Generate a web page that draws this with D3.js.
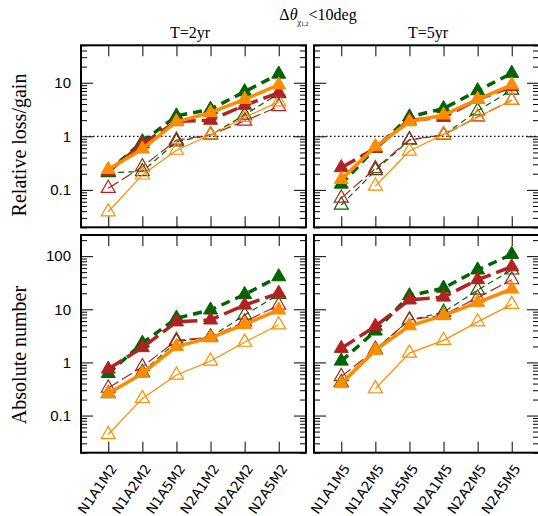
<!DOCTYPE html>
<html>
<head>
<meta charset="utf-8">
<script src="https://cdn.jsdelivr.net/npm/d3@7"></script>
<style>
  body { margin: 0; background: #fff; }
  svg { display: block; }
</style>
</head>
<body>
<div id="chart"></div>
<script>
// categories
const cats2yr = ["N1A1M2", "N1A2M2", "N1A5M2", "N2A1M2", "N2A2M2", "N2A5M2"];
const cats5yr = ["N1A1M5", "N1A2M5", "N1A5M5", "N2A1M5", "N2A2M5", "N2A5M5"];

// relative loss/gain, T=2yr
const rel2_greenFilled  = [0.22, 0.79, 2.4, 3.2, 6.8, 14.5];
const rel2_redFilled    = [0.22, 0.72, 1.9, 2.0, 3.8, 6.5];
const rel2_orangeFilled = [0.24, 0.58, 1.87, 2.76, 4.9, 9.1];
const rel2_greenOpen    = [0.21, 0.22, 0.79, 1.06, 2.5, 6.3];
const rel2_redOpen      = [0.107, 0.27, 0.85, 1.06, 1.93, 3.6];
const rel2_orangeOpen   = [0.039, 0.19, 0.55, 1.06, 2.26, 4.4];

// relative loss/gain, T=5yr
const rel5_greenFilled  = [0.128, 0.60, 2.3, 3.3, 7.1, 15];
const rel5_redFilled    = [0.26, 0.60, 2.0, 2.26, 4.9, 8.4];
const rel5_orangeFilled = [0.157, 0.64, 1.87, 2.5, 4.9, 9.1];
const rel5_greenOpen    = [0.052, 0.23, 0.85, 1.06, 3.0, 7.3];
const rel5_redOpen      = [0.070, 0.25, 0.87, 1.06, 2.3, 4.7];
const rel5_orangeOpen   = [null, 0.118, 0.53, 1.08, 2.26, 4.7];

// absolute number, T=2yr
const abs2_greenFilled  = [0.62, 2.3, 6.8, 9.7, 19, 41];
const abs2_redFilled    = [0.75, 1.9, 5.8, 6.3, 12, 20];
const abs2_orangeFilled = [0.26, 0.62, 2.0, 2.9, 5.2, 9.7];
const abs2_greenOpen    = [0.26, 0.65, 2.45, 3.0, 7.8, 19];
const abs2_redOpen      = [0.33, 0.83, 2.6, 3.0, 5.8, 12];
const abs2_orangeOpen   = [0.044, 0.21, 0.58, 1.06, 2.4, 5.1];

// absolute number, T=5yr
const abs5_greenFilled  = [1.06, 3.9, 18, 25, 55, 108];
const abs5_redFilled    = [1.84, 4.8, 15, 17, 36, 63];
const abs5_orangeFilled = [0.40, 1.7, 4.9, 7.6, 13.5, 24];
const abs5_greenOpen    = [0.42, 1.75, 6.3, 8.8, 23, 55];
const abs5_redOpen      = [0.54, 1.75, 6.3, 7.8, 16.5, 36];
const abs5_orangeOpen   = [null, 0.32, 1.5, 2.6, 5.8, 12.4];

const green = "#006400", red = "#b22222", orange = "#ff8c00";

// line styles, drawn thin/open first then thick/filled
const styles = [
  { key: "greenOpen",    color: green,  width: 1.2, dash: "6,4",   filled: false },
  { key: "redOpen",      color: red,    width: 1.2, dash: "12,4",  filled: false },
  { key: "orangeOpen",   color: orange, width: 1.2, dash: null,    filled: false },
  { key: "greenFilled",  color: green,  width: 3.5, dash: "9,6",   filled: true },
  { key: "redFilled",    color: red,    width: 3.5, dash: "16,6",  filled: true },
  { key: "orangeFilled", color: orange, width: 3.5, dash: null,    filled: true }
];

const panels = [
  { x0: 81,  x1: 306, y0: 45.3, y1: 227.3, dom: [0.02, 50],  cats: cats2yr, labels: true,  xlab: false, ref: true,
    data: { greenFilled: rel2_greenFilled, redFilled: rel2_redFilled, orangeFilled: rel2_orangeFilled,
            greenOpen: rel2_greenOpen, redOpen: rel2_redOpen, orangeOpen: rel2_orangeOpen } },
  { x0: 314, x1: 539, y0: 45.3, y1: 227.3, dom: [0.02, 50],  cats: cats5yr, labels: false, xlab: false, ref: true,
    data: { greenFilled: rel5_greenFilled, redFilled: rel5_redFilled, orangeFilled: rel5_orangeFilled,
            greenOpen: rel5_greenOpen, redOpen: rel5_redOpen, orangeOpen: rel5_orangeOpen } },
  { x0: 81,  x1: 306, y0: 235, y1: 452.7, dom: [0.02, 250], cats: cats2yr, labels: true,  xlab: true, ref: false,
    data: { greenFilled: abs2_greenFilled, redFilled: abs2_redFilled, orangeFilled: abs2_orangeFilled,
            greenOpen: abs2_greenOpen, redOpen: abs2_redOpen, orangeOpen: abs2_orangeOpen } },
  { x0: 314, x1: 539, y0: 235, y1: 452.7, dom: [0.02, 250], cats: cats5yr, labels: false, xlab: true, ref: false,
    data: { greenFilled: abs5_greenFilled, redFilled: abs5_redFilled, orangeFilled: abs5_orangeFilled,
            greenOpen: abs5_greenOpen, redOpen: abs5_redOpen, orangeOpen: abs5_orangeOpen } }
];

const svg = d3.select("#chart").append("svg")
  .attr("width", 538).attr("height", 516);

const sans = "'Liberation Sans', Arial, sans-serif";
const serif = "'Liberation Serif', 'Times New Roman', serif";

panels.forEach(p => {
  const x = d3.scaleLinear().domain([-0.8, 5.8]).range([p.x0, p.x1]);
  const y = d3.scaleLog().domain(p.dom).range([p.y1, p.y0]);

  const major = y.ticks().filter(v => Math.abs(Math.log10(v) - Math.round(Math.log10(v))) < 1e-9);
  const minor = y.ticks().filter(v => !major.includes(v));

  const clip = "clip" + p.x0 + "_" + Math.round(p.y0);
  svg.append("clipPath").attr("id", clip)
    .append("rect").attr("x", p.x0).attr("y", p.y0)
    .attr("width", p.x1 - p.x0).attr("height", p.y1 - p.y0);

  // minor y ticks, both sides
  svg.append("g").attr("transform", `translate(${p.x0},0)`)
    .call(d3.axisLeft(y).tickValues(minor).tickSize(-6).tickFormat(""));
  svg.append("g").attr("transform", `translate(${p.x1},0)`)
    .call(d3.axisRight(y).tickValues(minor).tickSize(-6).tickFormat(""));
  // major y ticks
  svg.append("g").attr("class", "ylab").attr("transform", `translate(${p.x0},0)`)
    .call(d3.axisLeft(y).tickValues(major).tickSize(-12).tickPadding(10)
      .tickFormat(p.labels ? (d => d >= 1 ? d3.format("d")(d) : String(d)) : ""));
  svg.append("g").attr("transform", `translate(${p.x1},0)`)
    .call(d3.axisRight(y).tickValues(major).tickSize(-12).tickFormat(""));

  // x ticks, top and bottom
  svg.append("g").attr("transform", `translate(0,${p.y0})`)
    .call(d3.axisTop(x).tickValues(d3.range(6)).tickSize(-11).tickFormat(""));
  const xb = svg.append("g").attr("transform", `translate(0,${p.y1})`)
    .call(d3.axisBottom(x).tickValues(d3.range(6)).tickSize(-11)
      .tickFormat(p.xlab ? (i => p.cats[i]) : ""));

  if (p.xlab) {
    xb.selectAll(".tick text")
      .attr("y", 0).attr("dy", "0.35em")
      .attr("text-anchor", "end")
      .attr("transform", "translate(5,13) rotate(-55)")
      .style("font-family", "'DejaVu Sans', sans-serif").style("font-size", "13.5px");
  }

  svg.selectAll(".domain").remove();
  svg.selectAll(".tick line").attr("stroke", "#000").attr("stroke-width", 1);
  svg.selectAll(".ylab .tick text").style("font-family", sans).style("font-size", "15px").attr("fill", "#000");

  // reference line at 1
  if (p.ref) {
    svg.append("line")
      .attr("x1", p.x0).attr("x2", p.x1)
      .attr("y1", y(1)).attr("y2", y(1))
      .attr("stroke", "#000").attr("stroke-width", 1.2)
      .attr("stroke-dasharray", "1.5,2.5");
  }

  const g = svg.append("g").attr("clip-path", `url(#${clip})`);
  styles.forEach(s => {
    const vals = p.data[s.key].map((v, i) => ({ i: i, v: v })).filter(d => d.v != null);
    g.append("path").datum(vals)
      .attr("fill", "none")
      .attr("stroke", s.color)
      .attr("stroke-width", s.width)
      .attr("stroke-dasharray", s.dash)
      .attr("d", d3.line().x(d => x(d.i)).y(d => y(d.v)));
    g.selectAll(null).data(vals).enter().append("path")
      .attr("transform", d => `translate(${x(d.i)},${y(d.v)})`)
      .attr("d", d3.symbol(d3.symbolTriangle, 85))
      .attr("fill", s.filled ? s.color : "none")
      .attr("stroke", s.color)
      .attr("stroke-width", s.filled ? 1 : 1.2);
  });

  // frame
  svg.append("rect")
    .attr("x", p.x0).attr("y", p.y0)
    .attr("width", p.x1 - p.x0).attr("height", p.y1 - p.y0)
    .attr("fill", "none").attr("stroke", "#000").attr("stroke-width", 2);
});

// titles
const t = svg.append("text").attr("x", 318).attr("y", 20)
  .attr("text-anchor", "middle")
  .style("font-family", serif).style("font-size", "16px");
t.append("tspan").text("\u0394");
t.append("tspan").style("font-style", "italic").text("\u03b8");
t.append("tspan").attr("dy", 5).style("font-size", "8px").text("\u03c7");
t.append("tspan").attr("dy", 1).style("font-size", "6px").text("1,2");
t.append("tspan").attr("dy", -6).text("<10deg");

svg.append("text").attr("x", 190).attr("y", 38).attr("text-anchor", "middle")
  .style("font-family", serif).style("font-size", "16px").text("T=2yr");
svg.append("text").attr("x", 428).attr("y", 38).attr("text-anchor", "middle")
  .style("font-family", serif).style("font-size", "16px").text("T=5yr");

svg.append("text")
  .attr("transform", "translate(26,145) rotate(-90)")
  .attr("text-anchor", "middle")
  .style("font-family", serif).style("font-size", "20px").text("Relative loss/gain");
svg.append("text")
  .attr("transform", "translate(26,355) rotate(-90)")
  .attr("text-anchor", "middle")
  .style("font-family", serif).style("font-size", "20px").text("Absolute number");
</script>
</body>
</html>
